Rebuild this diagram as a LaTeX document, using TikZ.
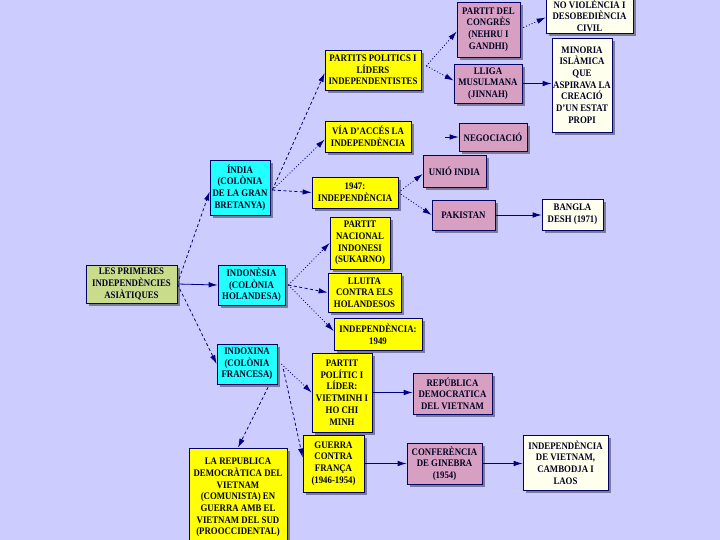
\documentclass[tikz,border=0pt]{standalone}
\usepackage{fontspec}
\setmainfont{Liberation Serif}[FakeStretch=0.88]
\usetikzlibrary{arrows.meta,shadows}
\definecolor{bg}{HTML}{CCCCFF}
\definecolor{navy}{HTML}{000066}
\definecolor{lnc}{HTML}{000080}
\definecolor{txt}{HTML}{000022}
\definecolor{ylw}{HTML}{FFFF00}
\definecolor{cyn}{HTML}{22FFFF}
\definecolor{pnk}{HTML}{D7A0C3}
\definecolor{crm}{HTML}{FFFFEE}
\definecolor{grn}{HTML}{C8DC8C}
\definecolor{shd}{HTML}{7C7C98}
\tikzset{
  box/.style={draw=navy, line width=0.7pt, inner sep=0pt, align=center,
    text=txt, font=\fontsize{10}{11.7}\selectfont\bfseries,
    drop shadow={shadow xshift=3pt, shadow yshift=-3pt, fill=shd, opacity=1}},
  yb/.style={box, fill=ylw},
  cb/.style={box, fill=cyn},
  pb/.style={box, fill=pnk},
  wb/.style={box, fill=crm},
  gb/.style={box, fill=grn},
  conn/.style={draw=lnc, line width=0.8pt, -{Latex[length=9pt,width=5.5pt]}},
  dsh/.style={conn, dash pattern=on 3pt off 2.5pt},
  dtt/.style={conn, dash pattern=on 1pt off 2pt},
}
\begin{document}
\begin{tikzpicture}[x=1pt,y=-1pt]
\useasboundingbox (0,0) rectangle (720,540);
\clip (0,0) rectangle (720,540);
\fill[bg] (0,0) rectangle (720,540);

% level 0
\node[gb, minimum width=91pt, minimum height=38pt] (primeres) at (131.5,284) {LES PRIMERES\\INDEPENDÈNCIES\\ASIÀTIQUES};

% level 1
\node[cb, minimum width=60pt, minimum height=55pt] (india) at (240,187.5) {ÍNDIA\\(COLÒNIA\\DE LA GRAN\\BRETANYA)};
\node[cb, minimum width=67pt, minimum height=40pt] (indonesia) at (251.5,285) {INDONÈSIA\\(COLÒNIA\\HOLANDESA)};
\node[cb, minimum width=60pt, minimum height=40pt] (indoxina) at (247,364) {INDOXINA\\(COLÒNIA\\FRANCESA)};

% level 2
\node[yb, minimum width=96pt, minimum height=40pt] (partits) at (373,70) {PARTITS POLITICS I\\LÍDERS\\INDEPENDENTISTES};
\node[yb, minimum width=86pt, minimum height=31pt] (via) at (368,136.5) {VÍA D'ACCÉS LA\\INDEPENDÈNCIA};
\node[yb, minimum width=86pt, minimum height=31pt] (y1947) at (355,192.5) {1947:\\INDEPENDÈNCIA};
\node[yb, minimum width=60pt, minimum height=52pt] (pni) at (360,243) {PARTIT\\NACIONAL\\INDONESI\\(SUKARNO)};
\node[yb, minimum width=73pt, minimum height=39pt] (lluita) at (364.5,292.5) {LLUITA\\CONTRA ELS\\HOLANDESOS};
\node[yb, minimum width=88pt, minimum height=32pt] (ind1949) at (378,334) {INDEPENDÈNCIA:\\1949};
\node[yb, minimum width=60pt, minimum height=79pt] (vietminh) at (342,392.5) {PARTIT\\POLÍTIC I\\LÍDER:\\VIETMINH I\\HO CHI\\MINH};
\node[yb, minimum width=61pt, minimum height=57pt] (guerra) at (333.5,463.5) {GUERRA\\CONTRA\\FRANÇA\\(1946-1954)};
\node[yb, minimum width=98pt, minimum height=99pt] (rdv) at (238,497.5) {LA REPUBLICA\\DEMOCRÀTICA DEL\\VIETNAM\\(COMUNISTA) EN\\GUERRA AMB EL\\VIETNAM DEL SUD\\(PROOCCIDENTAL)};

% level 3
\node[pb, minimum width=63pt, minimum height=55pt] (congres) at (488.5,29.5) {PARTIT DEL\\CONGRÈS\\(NEHRU I\\GANDHI)};
\node[pb, minimum width=68pt, minimum height=39pt] (lliga) at (488,83.5) {LLIGA\\MUSULMANA\\(JINNAH)};
\node[pb, minimum width=68pt, minimum height=28pt] (negociacio) at (493,137) {NEGOCIACIÓ};
\node[pb, minimum width=63pt, minimum height=32pt] (unio) at (454.5,171) {UNIÓ INDIA};
\node[pb, minimum width=63pt, minimum height=30pt] (pakistan) at (463.5,215) {PAKISTAN};
\node[pb, minimum width=79pt, minimum height=41pt] (rdvp) at (452.5,393.5) {REPÚBLICA\\DEMOCRATICA\\DEL VIETNAM};
\node[pb, minimum width=75pt, minimum height=41pt] (ginebra) at (444.5,463.5) {CONFERÈNCIA\\DE GINEBRA\\(1954)};

% level 4
\node[wb, minimum width=87pt, minimum height=36pt] (noviol) at (589.5,15.5) {NO VIOLÈNCIA I\\DESOBEDIÈNCIA\\CIVIL};
\node[wb, minimum width=60pt, minimum height=94pt] (minoria) at (582,85) {MINORIA\\ISLÀMICA\\QUE\\ASPIRAVA LA\\CREACIÓ\\D'UN ESTAT\\PROPI};
\node[wb, minimum width=61pt, minimum height=31pt] (bangla) at (572.5,214.5) {BANGLA\\DESH (1971)};
\node[wb, minimum width=85pt, minimum height=55pt] (indvcl) at (565.5,462.5) {INDEPENDÈNCIA\\DE VIETNAM,\\CAMBODJA I\\LAOS};

% connectors
\draw[dsh] (primeres.east) -- ([yshift=-4pt]india.west);
\draw[conn] (primeres.east) -- (indonesia.west);
\draw[dsh] (primeres.east) -- (indoxina.west);

\draw[dsh] ([xshift=2pt,yshift=-2.5pt]india.east) -- ([yshift=-3pt]partits.west);
\draw[dtt] ([xshift=2pt,yshift=-2.5pt]india.east) -- ([yshift=-3pt]via.west);
\draw[dsh] ([xshift=2pt,yshift=-2.5pt]india.east) -- (y1947.west);

\draw[dtt] ([xshift=5pt,yshift=4pt]partits.east) -- ([yshift=-2pt]congres.west);
\draw[dtt] ([xshift=5pt,yshift=4pt]partits.east) -- ([yshift=3pt]lliga.west);
\draw[dtt] ([xshift=3pt,yshift=2pt]congres.east) -- ([yshift=-2pt]noviol.west);
\draw[conn] (lliga.east) -- (lliga.east -| minoria.west);

\coordinate (negtail) at (445,137);
\draw[conn] (negtail) -- (negociacio.west);

\draw[dtt] (y1947.east) -- ([yshift=-3pt]unio.west);
\draw[dtt] (y1947.east) -- (pakistan.west);
\draw[conn] (pakistan.east) -- (pakistan.east -| bangla.west);

\draw[dtt] ([xshift=3pt]indonesia.east) -- (pni.west);
\draw[dsh] ([xshift=3pt]indonesia.east) -- (lluita.west);
\draw[dtt] ([xshift=3pt]indonesia.east) -- ([yshift=3pt]ind1949.west);

\draw[dtt] ([xshift=4pt]indoxina.east) -- (vietminh.west);
\draw[dsh] ([xshift=6pt,yshift=-5pt]indoxina.east) -- ([yshift=6pt]guerra.west);
\draw[dsh] ([xshift=21pt,yshift=-3pt]indoxina.south) -- (rdv.north);

\draw[conn] (vietminh.east) -- (vietminh.east -| rdvp.west);
\draw[conn] (guerra.east) -- (guerra.east -| ginebra.west);
\draw[conn] (ginebra.east) -- (ginebra.east -| indvcl.west);
\end{tikzpicture}
\end{document}
